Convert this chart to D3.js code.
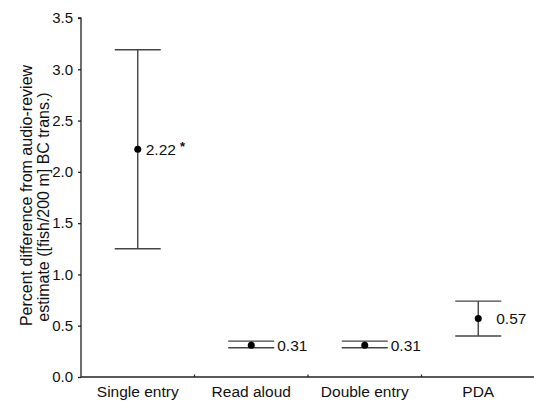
<!DOCTYPE html>
<html>
<head>
<meta charset="utf-8">
<script src="https://cdn.jsdelivr.net/npm/d3@7"></script>
<style>
  body { margin: 0; background: #fff; }
  svg text { font-family: "Liberation Sans", Arial, sans-serif; fill: #111; }
</style>
</head>
<body>
<svg id="chart" width="534" height="401"></svg>
<script>
// chart values
const categories = ["Single entry", "Read aloud", "Double entry", "PDA"];
const means = [2.22, 0.31, 0.31, 0.57];
const lower = [1.25, 0.285, 0.285, 0.40];
const upper = [3.19, 0.35, 0.35, 0.74];
const pointLabels = ["2.22", "0.31", "0.31", "0.57"];
const significant = [true, false, false, false];
const yTicks = [0, 0.5, 1.0, 1.5, 2.0, 2.5, 3.0, 3.5];

const svg = d3.select("#chart");
const mLeft = 81, mRight = 535, mTop = 18, mBottom = 377;
const capHalf = 23;
// horizontal nudge for each value label
const labelDx = [8, 26, 26, 18];

const x = d3.scaleBand().domain(categories).range([mLeft, mRight]).padding(0);
const y = d3.scaleLinear().domain([0, 3.5]).range([mBottom, mTop]);

// y axis
const yAxis = svg.append("g")
  .attr("transform", `translate(${mLeft},0)`)
  .call(d3.axisLeft(y).tickValues(yTicks).tickFormat(d3.format(".1f")).tickSize(3).tickPadding(5));
yAxis.select(".domain").attr("d", `M-3,${y(3.5)}H0V${mBottom}`).attr("stroke", "#222").attr("stroke-width", 1.3);
yAxis.selectAll(".tick line").attr("stroke", "#222").attr("stroke-width", 1.3);
yAxis.selectAll(".tick text").style("font-size", "15px").attr("fill", "#111");

// x axis
const xAxis = svg.append("g")
  .attr("transform", `translate(0,${mBottom})`)
  .call(d3.axisBottom(x).tickSize(0).tickPadding(9));
xAxis.select(".domain").attr("d", `M${mLeft},0H${mRight}`).attr("stroke", "#222").attr("stroke-width", 1.5);
xAxis.selectAll(".tick text").style("font-size", "15.5px").attr("fill", "#111");
// small separators between categories
xAxis.selectAll(".sep")
  .data(categories.slice(1))
  .enter().append("line")
  .attr("x1", d => x(d)).attr("x2", d => x(d))
  .attr("y1", 0).attr("y2", -2.5)
  .attr("stroke", "#222").attr("stroke-width", 1.2);

// y axis title
const title = svg.append("text")
  .attr("transform", "rotate(-90)")
  .attr("text-anchor", "middle")
  .style("font-size", "16px");
title.append("tspan").attr("x", -195.5).attr("y", 32).text("Percent difference from audio-review");
title.append("tspan").attr("x", -207).attr("y", 49).text("estimate ([fish/200 m] BC trans.)");

// error bars
const g = svg.append("g");
const rows = categories.map((c, i) => ({ c, i, m: means[i], lo: lower[i], hi: upper[i], lab: pointLabels[i], sig: significant[i] }));

const bars = g.selectAll(".bar").data(rows).enter().append("g").attr("class", "bar");
const cx = d => x(d.c) + x.bandwidth() / 2;

bars.append("line")
  .attr("x1", cx).attr("x2", cx)
  .attr("y1", d => y(d.lo)).attr("y2", d => y(d.hi))
  .attr("stroke", "#444").attr("stroke-width", 1.4);
bars.append("line")
  .attr("x1", d => cx(d) - capHalf).attr("x2", d => cx(d) + capHalf)
  .attr("y1", d => y(d.hi)).attr("y2", d => y(d.hi))
  .attr("stroke", "#444").attr("stroke-width", 1.4);
bars.append("line")
  .attr("x1", d => cx(d) - capHalf).attr("x2", d => cx(d) + capHalf)
  .attr("y1", d => y(d.lo)).attr("y2", d => y(d.lo))
  .attr("stroke", "#444").attr("stroke-width", 1.4);
bars.append("circle")
  .attr("cx", cx).attr("cy", d => y(d.m)).attr("r", 3.5)
  .attr("fill", "#000");

const lab = bars.append("text")
  .attr("x", d => cx(d) + labelDx[d.i])
  .attr("y", d => y(d.m) + 5.5)
  .style("font-size", "15.5px");
lab.append("tspan").text(d => d.lab);
lab.filter(d => d.sig).append("tspan")
  .attr("dx", 4).attr("dy", -4)
  .style("font-size", "13px")
  .style("font-weight", "bold")
  .text("*");
</script>
</body>
</html>
